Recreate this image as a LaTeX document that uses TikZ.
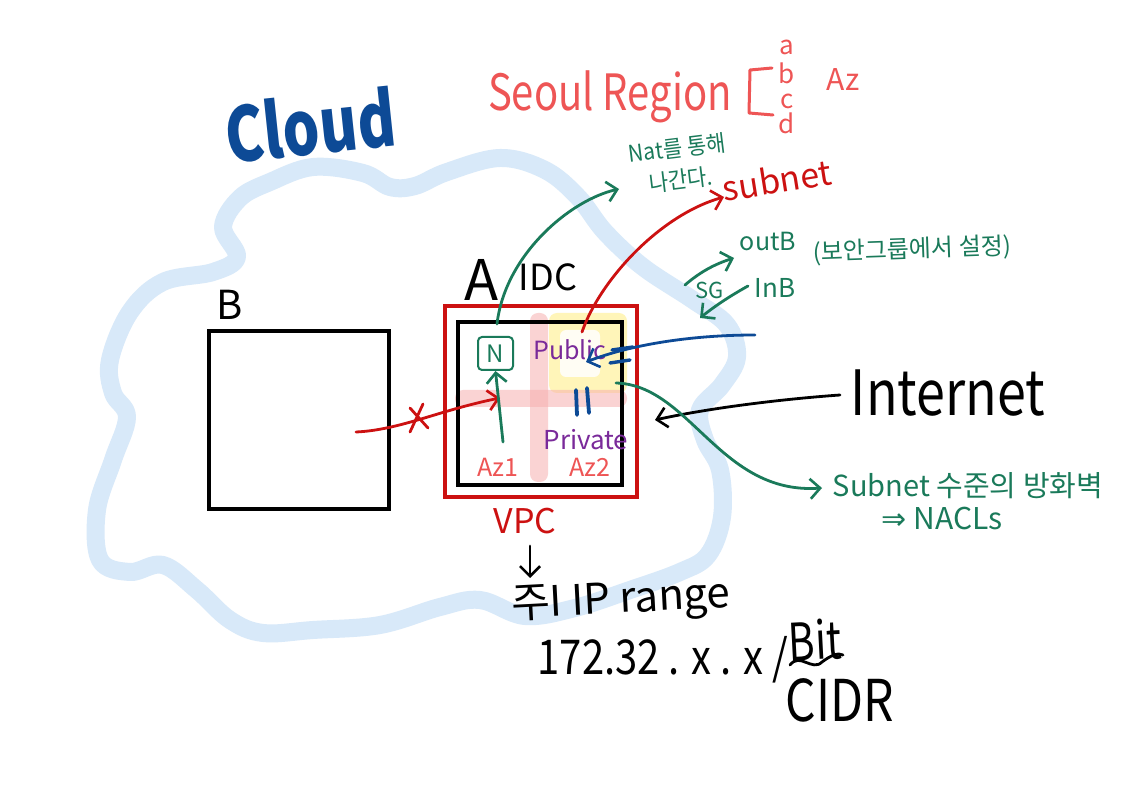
\documentclass[tikz,border=0pt]{standalone}
\usepackage{fontspec}
\usepackage{graphicx}
\setmainfont{Noto Sans CJK KR}
\newfontfamily\symfont{DejaVu Sans}
\usetikzlibrary{arrows.meta}
\definecolor{cloudblue}{HTML}{D8E9F9}
\definecolor{dblue}{HTML}{0D4A96}
\definecolor{pen}{HTML}{1A7A5A}
\definecolor{dred}{HTML}{CC1111}
\definecolor{coral}{HTML}{EE5555}
\definecolor{purp}{HTML}{7A2A9A}
\definecolor{hpink}{HTML}{F7AFAF}
\definecolor{hyel}{HTML}{FFF3A8}
\newcommand{\fs}[1]{\fontsize{#1}{#1}\selectfont}
\tikzset{
  tipped/.style={-{Straight Barb[length=5pt,width=10pt,line width=1.3pt]}},
  lbl/.style={inner sep=0pt, anchor=center},
  penline/.style={line width=1.4pt, line cap=round},
}
\begin{document}
\begin{tikzpicture}[x=0.5pt,y=-0.5pt]
\useasboundingbox (0,0) rectangle (1147,796);
\fill[white] (0,0) rectangle (1147,796);

% cloud outline
\draw[cloudblue, line width=9pt, line join=round] plot[smooth cycle, tension=0.6] coordinates {
 (237,257) (223,227) (240,198) (270,182) (313,167) (363,173) (390,187) (415,186) (447,172)
 (500,158) (545,170) (578,197) (605,232) (643,267) (693,300) (727,325) (737,357) (722,385)
 (700,410) (705,440) (720,470) (722,517) (708,555) (680,572) (630,590) (575,608) (525,616)
 (480,600) (440,607) (380,625) (313,630) (263,633) (230,620) (197,590) (163,565) (130,572)
 (100,560) (97,510) (113,460) (127,417) (113,393) (110,360) (130,312) (163,282) (213,272)};

\node[lbl, text=dblue, rotate=6] (cloudt) at (310,125) {\fs{29}\scalebox{1}[1.3]{\bfseries Cloud}};

% highlighter marks
\fill[hyel, opacity=0.8, rounded corners=4pt] (549,313) rectangle (627,393);
\fill[white, opacity=0.85, rounded corners=3pt] (560,330) rectangle (600,377);
\fill[hpink, opacity=0.55, rounded corners=4pt] (530,313) rectangle (548,482);
\fill[hpink, opacity=0.55, rounded corners=4pt] (455,390) rectangle (627,407);

% boxes
\node[lbl, font=\fs{20}] (Bl) at (230,305) {B};
\node[draw, line width=1.6pt, minimum width=90pt, minimum height=89pt, inner sep=0pt] (B) at (299,420) {};
\node[lbl, font=\fs{28}] (Al) at (482,280) {A};
\node[lbl, font=\fs{18}] (idc) at (548,277) {IDC};
\node[draw=dred, line width=1.6pt, minimum width=96pt, minimum height=95.5pt, inner sep=0pt] (vpc) at (541,401.5) {};
\node[draw=black, line width=1.6pt, minimum width=82pt, minimum height=81.5pt, inner sep=0pt] (idcbox) at (540,403.5) {};
\node[draw=pen, line width=1pt, rounded corners=2pt, minimum width=17.5pt, minimum height=16.5pt, inner sep=0pt, text=pen, font=\fs{12}] (N) at (495.5,353.5) {N};

\node[lbl, text=purp, font=\fs{12.5}] (pub) at (570,350) {Public};
\node[lbl, text=purp, font=\fs{13}] (priv) at (586,440) {Private};
\node[lbl, text=coral, font=\fs{12.5}] (az1) at (498,467) {Az1};
\node[lbl, text=coral, font=\fs{12.5}] (az2) at (590,467) {Az2};

% blue marks
\coordinate (bar1a) at (576,390); \coordinate (bar1b) at (577,415);
\coordinate (bar2a) at (587,388); \coordinate (bar2b) at (589,413);
\draw[dblue, line width=1.9pt, line cap=round] (bar1a) -- (bar1b);
\draw[dblue, line width=1.9pt, line cap=round] (bar2a) -- (bar2b);
\coordinate (eq1a) at (612,350); \coordinate (eq1b) at (633,347);
\coordinate (eq2a) at (610,363); \coordinate (eq2b) at (630,360);
\draw[dblue, line width=1.7pt, line cap=round] (eq1a) -- (eq1b);
\draw[dblue, line width=1.7pt, line cap=round] (eq2a) -- (eq2b);

% red blocked arrow B -> A
\coordinate (r1) at (356,432);
\coordinate (r2) at (500,398);
\draw[dred, penline, tipped] (r1) .. controls (400,430) and (440,410) .. (r2);
\coordinate (x1a) at (410,408); \coordinate (x1b) at (428,428);
\coordinate (x2a) at (423,404); \coordinate (x2b) at (410,432);
\draw[dred, penline] (x1a) -- (x1b);
\draw[dred, penline] (x2a) -- (x2b);

% green arrow up into N
\coordinate (g1) at (503,442);
\draw[pen, penline, tipped] (g1) -- (N.south);

% Seoul region
\node[lbl, text=coral, font=\fs{20}, text height=18pt, text depth=4pt] (seoul) at (610,97) {\scalebox{1}[1.25]{Seoul Region}};
\coordinate (br1) at (772,68); \coordinate (br2) at (750,70);
\coordinate (br3) at (749,113); \coordinate (br4) at (773,115);
\draw[coral, line width=1.5pt, line cap=round, line join=round] (br1) -- (br2) -- (br3) -- (br4);
\tikzset{abcd/.style={lbl, text=coral, font=\fs{13}, text height=9pt, text depth=1pt}}
\node[abcd] (la) at (787,47) {a};
\node[abcd] (lb) at (787,76) {b};
\node[abcd] (lc) at (787,101) {c};
\node[abcd] (ld) at (787,126) {d};
\node[lbl, text=coral, font=\fs{15}] (azs) at (843,80) {Az};

% NAT annotation (two lines)
\node[lbl, text=pen, rotate=7, align=center, font=\fontsize{10.5}{16}\selectfont] (nat) at (679,164) {\scalebox{1}[1.1]{Nat를 통해}\\\scalebox{1}[1.1]{나간다.}};
\coordinate (n1) at (497,324);
\coordinate (n2) at (619,189);
\draw[pen, penline, tipped] (n1) .. controls (505,255) and (570,200) .. (n2);

% subnet annotation
\node[lbl, text=dred, font=\fs{17}, rotate=9] (subnet) at (777,180) {subnet};
\coordinate (s1) at (582,332);
\coordinate (s2) at (724,197);
\draw[dred, penline, tipped] (s1) .. controls (600,280) and (660,215) .. (s2);

% SG annotation
\node[lbl, text=pen, font=\fs{12.5}] (outb) at (768,242) {outB};
\node[lbl, text=pen, font=\fs{11}] (sg) at (710,290) {SG};
\node[lbl, text=pen, font=\fs{13}] (inb) at (775,288) {InB};
\node[lbl, text=pen, font=\fs{12}, rotate=2] (sgset) at (912,250) {(보안그룹에서 설정)};
\coordinate (o1) at (685,285);
\coordinate (o2) at (734,258);
\draw[pen, penline, tipped] (o1) .. controls (700,272) and (715,264) .. (o2);
\coordinate (i1) at (748,286);
\coordinate (i2) at (700,318);
\draw[pen, penline, tipped] (i1) .. controls (730,296) and (715,306) .. (i2);

% blue inbound arrow
\coordinate (bl1) at (755,335);
\coordinate (bl2) at (586,362);
\draw[dblue, penline, tipped] (bl1) .. controls (690,335) and (630,345) .. (bl2);

% Internet
\node[lbl, font=\fs{26}] (inet) at (948,393) {\scalebox{1}[1.2]{Internet}};
\coordinate (k1) at (840,395);
\coordinate (k2) at (655,420);
\draw[black, penline, tipped] (k1) .. controls (770,400) and (700,410) .. (k2);

% NACL annotation
\coordinate (c1) at (616,383);
\coordinate (c2) at (822,488);
\draw[pen, penline, tipped] (c1) .. controls (690,385) and (720,495) .. (c2);
\node[lbl, text=pen, font=\fs{14.5}] (fw) at (968,486) {Subnet 수준의 방화벽};
\node[lbl, text=pen, font=\fs{15}] (nacl) at (942,519) {{\symfont ⇒} NACLs};

% VPC / CIDR
\node[lbl, text=dred, font=\fs{17}] (vpcl) at (525,521) {VPC};
\coordinate (v1) at (530,546);
\coordinate (v2) at (530,578);
\draw[black, penline, tipped] (v1) -- (v2);
\node[lbl, font=\fs{21}, rotate=3] (range) at (621,602) {주I IP range};
\node[lbl, font=\fs{20}] (ip) at (663,660) {\scalebox{1}[1.2]{172.32 . x . x /}};
\node[lbl, font=\fs{20}, rotate=3] (bit) at (815,640) {\scalebox{1}[1.3]{Bit}};
\coordinate (t1) at (790,665);
\coordinate (t2) at (843,655);
\draw[black, penline] (t1) .. controls (800,652) and (812,672) .. (822,662) .. controls (830,656) and (838,652) .. (t2);
\node[lbl, font=\fs{24}] (cidr) at (840,700) {\scalebox{1}[1.2]{CIDR}};
\end{tikzpicture}
\end{document}
